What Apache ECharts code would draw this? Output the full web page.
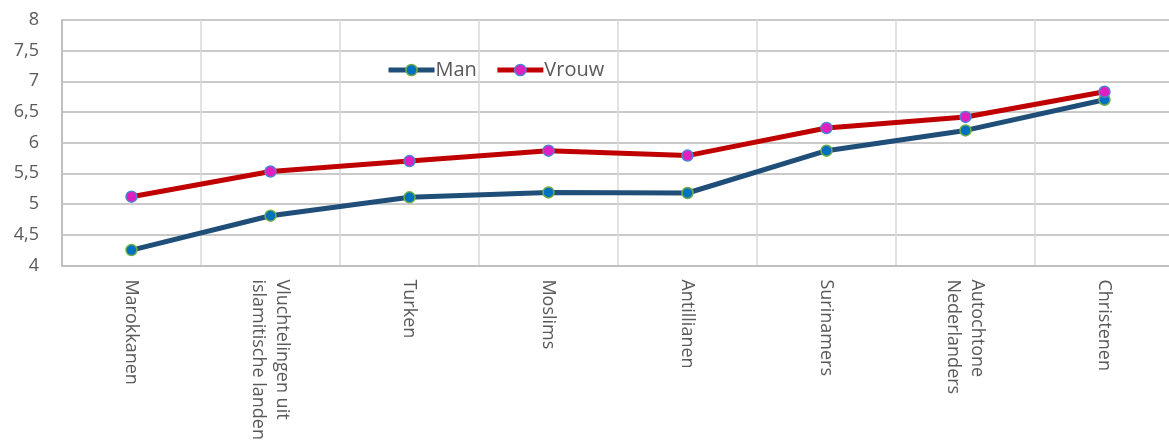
<!DOCTYPE html>
<html>
<head>
<meta charset="utf-8">
<script src="https://cdn.jsdelivr.net/npm/echarts@6/dist/echarts.min.js"></script>
<style>
  html, body { margin: 0; padding: 0; background: #ffffff; overflow: hidden; }
  #chart { width: 1176px; height: 443px; }
</style>
</head>
<body>
<div id="chart"></div>
<script>
// Groups shown along the horizontal axis
var categories = [
  'Marokkanen',
  'Vluchtelingen uit\nislamitische landen',
  'Turken',
  'Moslims',
  'Antillianen',
  'Surinamers',
  'Autochtone\nNederlanders',
  'Christenen'
];

// Scores per group
var manValues   = [4.25, 4.81, 5.11, 5.19, 5.18, 5.87, 6.20, 6.70];
var vrouwValues = [5.12, 5.53, 5.70, 5.87, 5.79, 6.24, 6.42, 6.83];

// Value axis range
var yMin = 4;
var yMax = 8;
var yStep = 0.5;

var textColor = '#595959';
var fontFamily = '"Open Sans", "Liberation Sans", sans-serif';

var manLine = { color: '#1f4e79', width: 5 };
var vrouwLine = { color: '#c00000', width: 5 };
var manMarker = { color: '#0070c0', borderColor: '#70ad47', borderWidth: 1.5 };
var vrouwMarker = { color: '#e01fbf', borderColor: '#4f81d6', borderWidth: 1.5 };

var chart = echarts.init(document.getElementById('chart'), null, { renderer: 'canvas' });

chart.setOption({
  animation: false,
  backgroundColor: '#ffffff',
  textStyle: { fontFamily: fontFamily },
  grid: { left: 62, top: 20, width: 1112, height: 249, containLabel: false },
  legend: {
    left: 381,
    top: 55,
    itemWidth: 46,
    itemHeight: 14,
    itemGap: 18,
    textStyle: { fontSize: 20, color: textColor, fontFamily: fontFamily, padding: [0, 0, 0, -4] },
    data: [
      { name: 'Man', lineStyle: manLine, itemStyle: manMarker },
      { name: 'Vrouw', lineStyle: vrouwLine, itemStyle: vrouwMarker }
    ]
  },
  xAxis: {
    type: 'category',
    data: categories,
    boundaryGap: true,
    axisLine: { show: true, lineStyle: { color: '#bfbfbf', width: 2 } },
    axisTick: { show: false },
    splitLine: { show: true, interval: 0, lineStyle: { color: '#d9d9d9', width: 1.5 } },
    axisLabel: {
      interval: 0,
      rotate: -90,
      margin: 14,
      fontSize: 18,
      lineHeight: 24,
      color: textColor,
      fontFamily: fontFamily
    }
  },
  yAxis: {
    type: 'value',
    min: yMin,
    max: yMax,
    interval: yStep,
    axisLine: { show: true, lineStyle: { color: '#bfbfbf', width: 2 } },
    axisTick: { show: false },
    splitLine: { show: true, lineStyle: { color: '#b8b8b8', width: 1.5 } },
    axisLabel: {
      margin: 23,
      fontSize: 18,
      color: textColor,
      fontFamily: fontFamily,
      formatter: function (v) { return String(v).replace('.', ','); }
    }
  },
  series: [
    {
      name: 'Man',
      type: 'line',
      data: manValues,
      smooth: false,
      symbol: 'circle',
      symbolSize: 11,
      lineStyle: manLine,
      itemStyle: manMarker,
      z: 3
    },
    {
      name: 'Vrouw',
      type: 'line',
      data: vrouwValues,
      smooth: false,
      symbol: 'circle',
      symbolSize: 11,
      lineStyle: vrouwLine,
      itemStyle: vrouwMarker,
      z: 4
    }
  ]
});
</script>
</body>
</html>
